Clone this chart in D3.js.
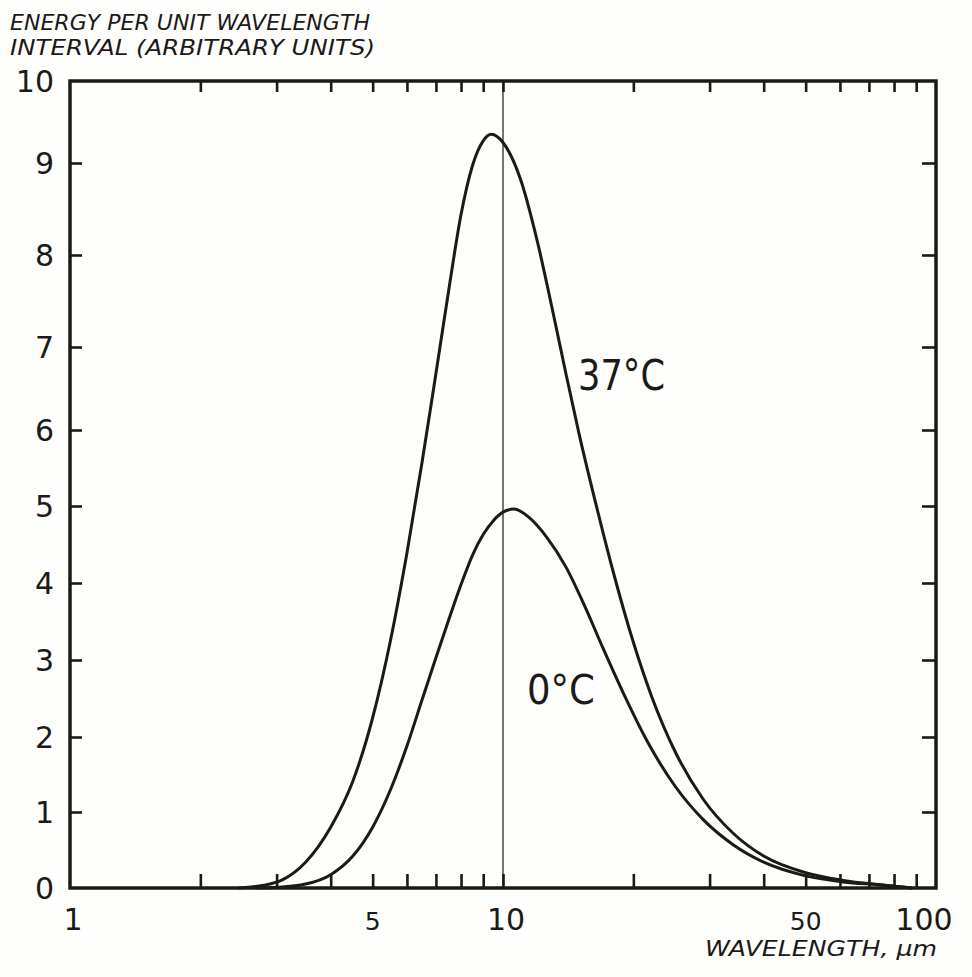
<!DOCTYPE html>
<html>
<head>
<meta charset="utf-8">
<script src="https://cdn.jsdelivr.net/npm/d3@7"></script>
<style>
  html, body { margin: 0; padding: 0; background: #fefefc; }
  svg { display: block; }
  text { font-family: "DejaVu Sans", sans-serif; fill: #1c1a18; }
</style>
</head>
<body>
<svg id="chart" width="972" height="977"></svg>
<script>
// ---- data ----
const yTickValues = [0, 1, 2, 3, 4, 5, 6, 7, 8, 9, 10];
const xMajorTicks = [1, 5, 10, 50, 100];
const xMajorLabels = ["1", "5", "10", "50", "100"];
const xMinorTicks = [2, 3, 4, 5, 6, 7, 8, 9, 10, 20, 30, 40, 50, 60, 70, 80, 90];

// 37 °C curve: wavelength (µm) and energy (arbitrary units)
const warmWavelength = [2.45, 2.8, 3.1, 3.5, 4.0, 4.5, 5.0, 5.5, 6.0, 6.5, 7.0, 7.5, 8.0, 8.5, 9.0, 9.4, 10, 11, 12, 13, 14, 15, 16.5, 18, 20, 22, 25, 29, 34, 40, 50, 61, 75, 88];
const warmEnergy     = [0.0, 0.035, 0.11, 0.34, 0.80, 1.41, 2.25, 3.26, 4.39, 5.57, 6.68, 7.63, 8.44, 8.97, 9.27, 9.35, 9.25, 8.81, 8.15, 7.41, 6.66, 5.94, 4.96, 4.13, 3.23, 2.54, 1.80, 1.17, 0.72, 0.42, 0.20, 0.10, 0.04, 0.0];
const warmLabel = "37°C";

// 0 °C curve
const coldWavelength = [2.7, 3.0, 3.5, 4.0, 4.5, 5.0, 5.5, 6.0, 6.5, 7.0, 7.5, 8.0, 8.5, 9.0, 9.5, 10, 10.6, 11.5, 12.6, 14, 15.5, 17, 19, 21.5, 25, 29, 34, 40, 50, 61, 75, 88];
const coldEnergy     = [0.0, 0.009, 0.052, 0.175, 0.42, 0.80, 1.30, 1.88, 2.48, 3.03, 3.53, 3.98, 4.36, 4.63, 4.81, 4.92, 4.96, 4.85, 4.60, 4.20, 3.68, 3.16, 2.56, 1.95, 1.34, 0.90, 0.57, 0.34, 0.16, 0.08, 0.04, 0.0];
const coldLabel = "0°C";

const yTitleLines = ["ENERGY PER UNIT WAVELENGTH", "INTERVAL (ARBITRARY UNITS)"];
const xTitle = "WAVELENGTH, μm";

// ---- layout ----
const ink = "#1c1a18";
const svg = d3.select("#chart");
const plotLeft = 70, plotRight = 936, plotTop = 81, plotBottom = 888;

const x = d3.scaleLog().domain([1, 100]).range([plotLeft, plotRight]);
// hand-drawn axis: tick spacing is uneven, so use a piecewise linear scale
const y = d3.scaleLinear().domain(yTickValues)
  .range([888, 812, 737, 660, 583, 506, 430, 347, 255, 163, 81]);

// vertical reference line at 10 µm
svg.append("line")
  .attr("x1", x(10)).attr("x2", x(10))
  .attr("y1", plotTop).attr("y2", plotBottom)
  .attr("stroke", "#4a4744").attr("stroke-width", 1.5);

// axes (ticks drawn inward)
const gBottom = svg.append("g").attr("transform", `translate(0,${plotBottom})`)
  .call(d3.axisTop(x).tickValues(xMinorTicks).tickSize(14).tickFormat(""));
const gTop = svg.append("g").attr("transform", `translate(0,${plotTop})`)
  .call(d3.axisBottom(x).tickValues(xMinorTicks).tickSize(11).tickFormat(""));
const gLeft = svg.append("g").attr("transform", `translate(${plotLeft},0)`)
  .call(d3.axisRight(y).tickValues(yTickValues.slice(1, 10)).tickSize(12).tickFormat(""));
const gRight = svg.append("g").attr("transform", `translate(${plotRight},0)`)
  .call(d3.axisLeft(y).tickValues(yTickValues.slice(1, 10)).tickSize(14).tickFormat(""));

[gBottom, gTop, gLeft, gRight].forEach(g => {
  g.select(".domain").remove();
  g.selectAll(".tick line").attr("stroke", ink).attr("stroke-width", 2.6);
});

// frame
svg.append("rect")
  .attr("x", plotLeft).attr("y", plotTop)
  .attr("width", plotRight - plotLeft).attr("height", plotBottom - plotTop)
  .attr("fill", "none").attr("stroke", ink).attr("stroke-width", 3.5);

// tick labels
svg.append("g").selectAll("text").data(yTickValues).join("text")
  .attr("x", 54).attr("y", d => y(d) + 11)
  .attr("text-anchor", "end")
  .attr("font-size", 30)
  .text(d => d);

const xLabelShift = { 1: 3, 5: 0, 10: 3, 50: 0, 100: -12 };
svg.append("g").selectAll("text").data(xMajorTicks).join("text")
  .attr("x", d => x(d) + xLabelShift[d]).attr("y", 930)
  .attr("text-anchor", "middle")
  .attr("font-size", d => (d === 5 || d === 50) ? 25 : 30)
  .text((d, i) => xMajorLabels[i]);

// curves
const line = d3.line().curve(d3.curveMonotoneX);
const warmPts = warmWavelength.map((w, i) => [x(w), y(warmEnergy[i])]);
const coldPts = coldWavelength.map((w, i) => [x(w), y(coldEnergy[i])]);
svg.append("path").attr("d", line(warmPts))
  .attr("fill", "none").attr("stroke", ink).attr("stroke-width", 3);
svg.append("path").attr("d", line(coldPts))
  .attr("fill", "none").attr("stroke", ink).attr("stroke-width", 3);

// curve labels
svg.append("text").attr("x", 578).attr("y", 390).attr("font-size", 42)
  .attr("textLength", 87).attr("lengthAdjust", "spacingAndGlyphs").text(warmLabel);
svg.append("text").attr("x", 527).attr("y", 704).attr("font-size", 40)
  .attr("textLength", 68).attr("lengthAdjust", "spacingAndGlyphs").text(coldLabel);

// axis titles
svg.append("g").selectAll("text").data(yTitleLines).join("text")
  .attr("x", 10).attr("y", (d, i) => 30 + i * 25)
  .attr("font-size", 21).attr("font-style", "italic")
  .attr("textLength", (d, i) => i === 0 ? 360 : 365)
  .attr("lengthAdjust", "spacingAndGlyphs")
  .text(d => d);

svg.append("text").attr("x", 705).attr("y", 956)
  .attr("font-size", 22).attr("font-style", "italic")
  .attr("textLength", 232).attr("lengthAdjust", "spacingAndGlyphs")
  .text(xTitle);
</script>
</body>
</html>
